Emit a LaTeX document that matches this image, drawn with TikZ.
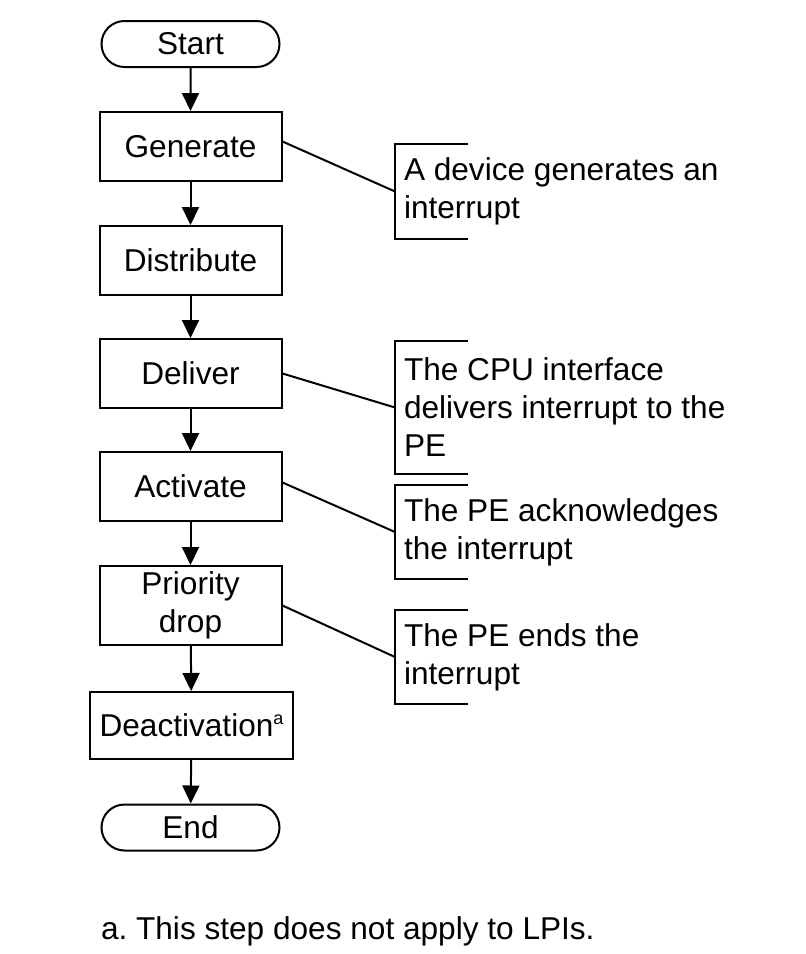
\documentclass[tikz,border=0pt]{standalone}
\usepackage{fontspec}
\setmainfont{Liberation Sans}
\usetikzlibrary{arrows.meta,shapes.misc}
\tikzset{
  stepbox/.style={draw, rectangle, align=center, minimum width=91pt, minimum height=34.5pt, inner sep=2pt},
  terminal/.style={draw, rounded rectangle, minimum width=91pt, minimum height=23pt, inner sep=1pt},
  note/.style={anchor=west, align=left, inner xsep=4pt, inner ysep=0pt},
}
\newcommand{\fnmark}[1]{\raisebox{0.75ex}{\fontsize{9}{9}\selectfont #1}}
\frenchspacing
\begin{document}
\begin{tikzpicture}[x=0.5pt, y=-0.5pt, line width=1pt, font=\fontsize{15.8}{19}\selectfont]
      \useasboundingbox (0,0) rectangle (806,954);
      % flow
      \node[terminal] (start) at (190.5,44) {Start};
      \node[stepbox] (generate) at (190.5,146.5) {Generate};
      \node[stepbox] (distribute) at (190.5,260.5) {Distribute};
      \node[stepbox] (deliver) at (190.5,373.5) {Deliver};
      \node[stepbox] (activate) at (190.5,486.5) {Activate};
      \node[stepbox, minimum height=39.5pt] (prioritydrop) at (190.5,605.5) {Priority\\drop};
      \node[stepbox, minimum width=101.5pt, minimum height=33.5pt] (deactivation) at (191.5,725.5) {Deactivation\fnmark{a}};
      \node[terminal] (end) at (190.5,827.5) {End};
      \begin{scope}[-{Triangle[length=9pt,width=8.5pt]}]
        \draw (start) to (generate);
        \draw (generate) to (distribute);
        \draw (distribute) to (deliver);
        \draw (deliver) to (activate);
        \draw (activate) to (prioritydrop);
        \draw (prioritydrop) to (deactivation);
        \draw (deactivation) to (end);
      \end{scope}
      % notes
      \node[note, minimum height=46.5pt] (generatenote) at (395,191.5) {A device generates an\\interrupt};
      \node[note, minimum height=65.5pt] (delivernote) at (395,407.5) {The CPU interface\\delivers interrupt to the\\PE};
      \node[note, minimum height=46pt] (activatenote) at (395,532) {The PE acknowledges\\the interrupt};
      \node[note, minimum height=46pt] (dropnote) at (395,657) {The PE ends the\\interrupt};
      \foreach \n in {generatenote,delivernote,activatenote,dropnote}
        \draw ([xshift=36.5pt]\n.north west) -| (\n.south west) -- ++(36.5pt,0);
      \draw ([yshift=2.5pt]generate.east) -- (generatenote.west);
      \draw (deliver.east) -- (delivernote.west);
      \draw ([yshift=2pt]activate.east) -- (activatenote.west);
      \draw (prioritydrop.east) -- (dropnote.west);
      % footnote
      \node[anchor=base west, inner sep=0pt] (footnote) at (100,939) {a. This step does not apply to LPIs.};
    \end{tikzpicture}
\end{document}
